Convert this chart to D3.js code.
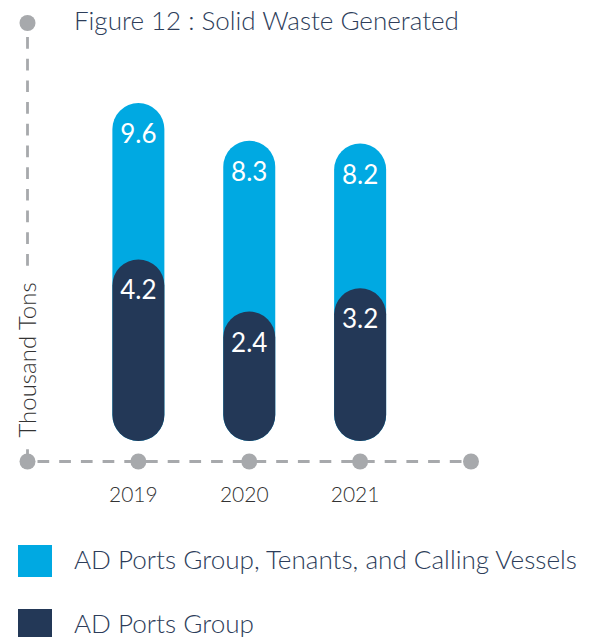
<!DOCTYPE html>
<html>
<head>
<meta charset="utf-8">
<script src="https://cdn.jsdelivr.net/npm/d3@7"></script>
<style>
  body { margin: 0; background: #fff; }
  svg { display: block; font-family: Lato, "Open Sans", sans-serif; font-weight: 300; }
</style>
</head>
<body>
<svg id="chart" width="593" height="637"></svg>
<script>
const years = ["2019", "2020", "2021"];
const totalValues = [9.6, 8.3, 8.2];   // AD Ports Group, Tenants, and Calling Vessels
const groupValues = [4.2, 2.4, 3.2];   // AD Ports Group
const seriesNames = ["AD Ports Group, Tenants, and Calling Vessels", "AD Ports Group"];

const svg = d3.select("svg#chart");

const lightBlue = "#00a9e2";
const navy = "#233857";
const axisGrey = "#a7a9ac";

const axisY = 461.5;
const axisLeft = 27.5;
const axisRight = 471;
const barBottom = 441;
const barWidth = 52;

const x = d3.scalePoint()
  .domain(years)
  .range([axisLeft, axisRight])
  .padding(1);

const y = d3.scaleLinear()
  .domain([0, 10])
  .range([381, 91.5]);

// title
svg.append("text")
  .attr("x", 74)
  .attr("y", 30)
  .attr("font-size", 26)
  .attr("fill", "#2d3d5a")
  .text("Figure 12 : Solid Waste Generated");

// dashed axes
const axes = svg.append("g")
  .attr("stroke", axisGrey)
  .attr("stroke-width", 2.8)
  .attr("stroke-dasharray", "11.7 10");

axes.append("line")
  .attr("x1", axisLeft).attr("x2", axisLeft)
  .attr("y1", 37).attr("y2", axisY);

axes.append("line")
  .attr("x1", axisLeft + 10).attr("x2", axisRight)
  .attr("y1", axisY).attr("y2", axisY);

// y axis title, sitting on top of the dashed line
const yTitle = svg.append("g")
  .attr("transform", `translate(${axisLeft},${360}) rotate(-90)`);
yTitle.append("rect")
  .attr("x", -86).attr("y", -12)
  .attr("width", 172).attr("height", 24)
  .attr("fill", "#fff");
yTitle.append("text")
  .attr("text-anchor", "middle")
  .attr("dy", "0.36em")
  .attr("font-size", 24)
  .attr("fill", "#333")
  .text("Thousand Tons");

// axis dots
svg.append("circle")
  .attr("cx", axisLeft).attr("cy", 23).attr("r", 8)
  .attr("fill", axisGrey);

const dotX = [axisLeft, ...years.map(d => x(d)), axisRight];
svg.append("g")
  .selectAll("circle")
  .data(dotX)
  .join("circle")
    .attr("cx", d => d)
    .attr("cy", axisY)
    .attr("r", 8)
    .attr("fill", axisGrey);

// year labels
svg.append("g")
  .selectAll("text")
  .data(years)
  .join("text")
    .attr("x", d => x(d) - 5)
    .attr("y", 502)
    .attr("text-anchor", "middle")
    .attr("font-size", 21)
    .attr("fill", "#333")
    .text(d => d);

// pill bars
function drawBars(values, fill, cls) {
  const g = svg.append("g").attr("class", cls);
  g.selectAll("rect")
    .data(values)
    .join("rect")
      .attr("x", (d, i) => x(years[i]) - barWidth / 2)
      .attr("y", d => y(d))
      .attr("width", barWidth)
      .attr("height", d => barBottom - y(d))
      .attr("rx", barWidth / 2)
      .attr("fill", fill);
  g.selectAll("text")
    .data(values)
    .join("text")
      .attr("x", (d, i) => x(years[i]))
      .attr("y", d => y(d) + 40)
      .attr("text-anchor", "middle")
      .attr("font-size", 26)
      .attr("font-weight", 400)
      .attr("fill", "#fff")
      .text(d => d.toFixed(1));
}

drawBars(totalValues, lightBlue, "total");
drawBars(groupValues, navy, "group");

// legend
const legend = svg.append("g")
  .selectAll("g")
  .data(seriesNames)
  .join("g")
    .attr("transform", (d, i) => `translate(18,${545 + i * 64})`);

legend.append("rect")
  .attr("width", 34)
  .attr("height", 32)
  .attr("fill", (d, i) => i === 0 ? lightBlue : navy);

legend.append("text")
  .attr("x", 56)
  .attr("y", 24)
  .attr("font-size", 26.1)
  .attr("fill", "#2d3d5a")
  .text(d => d);
</script>
</body>
</html>
